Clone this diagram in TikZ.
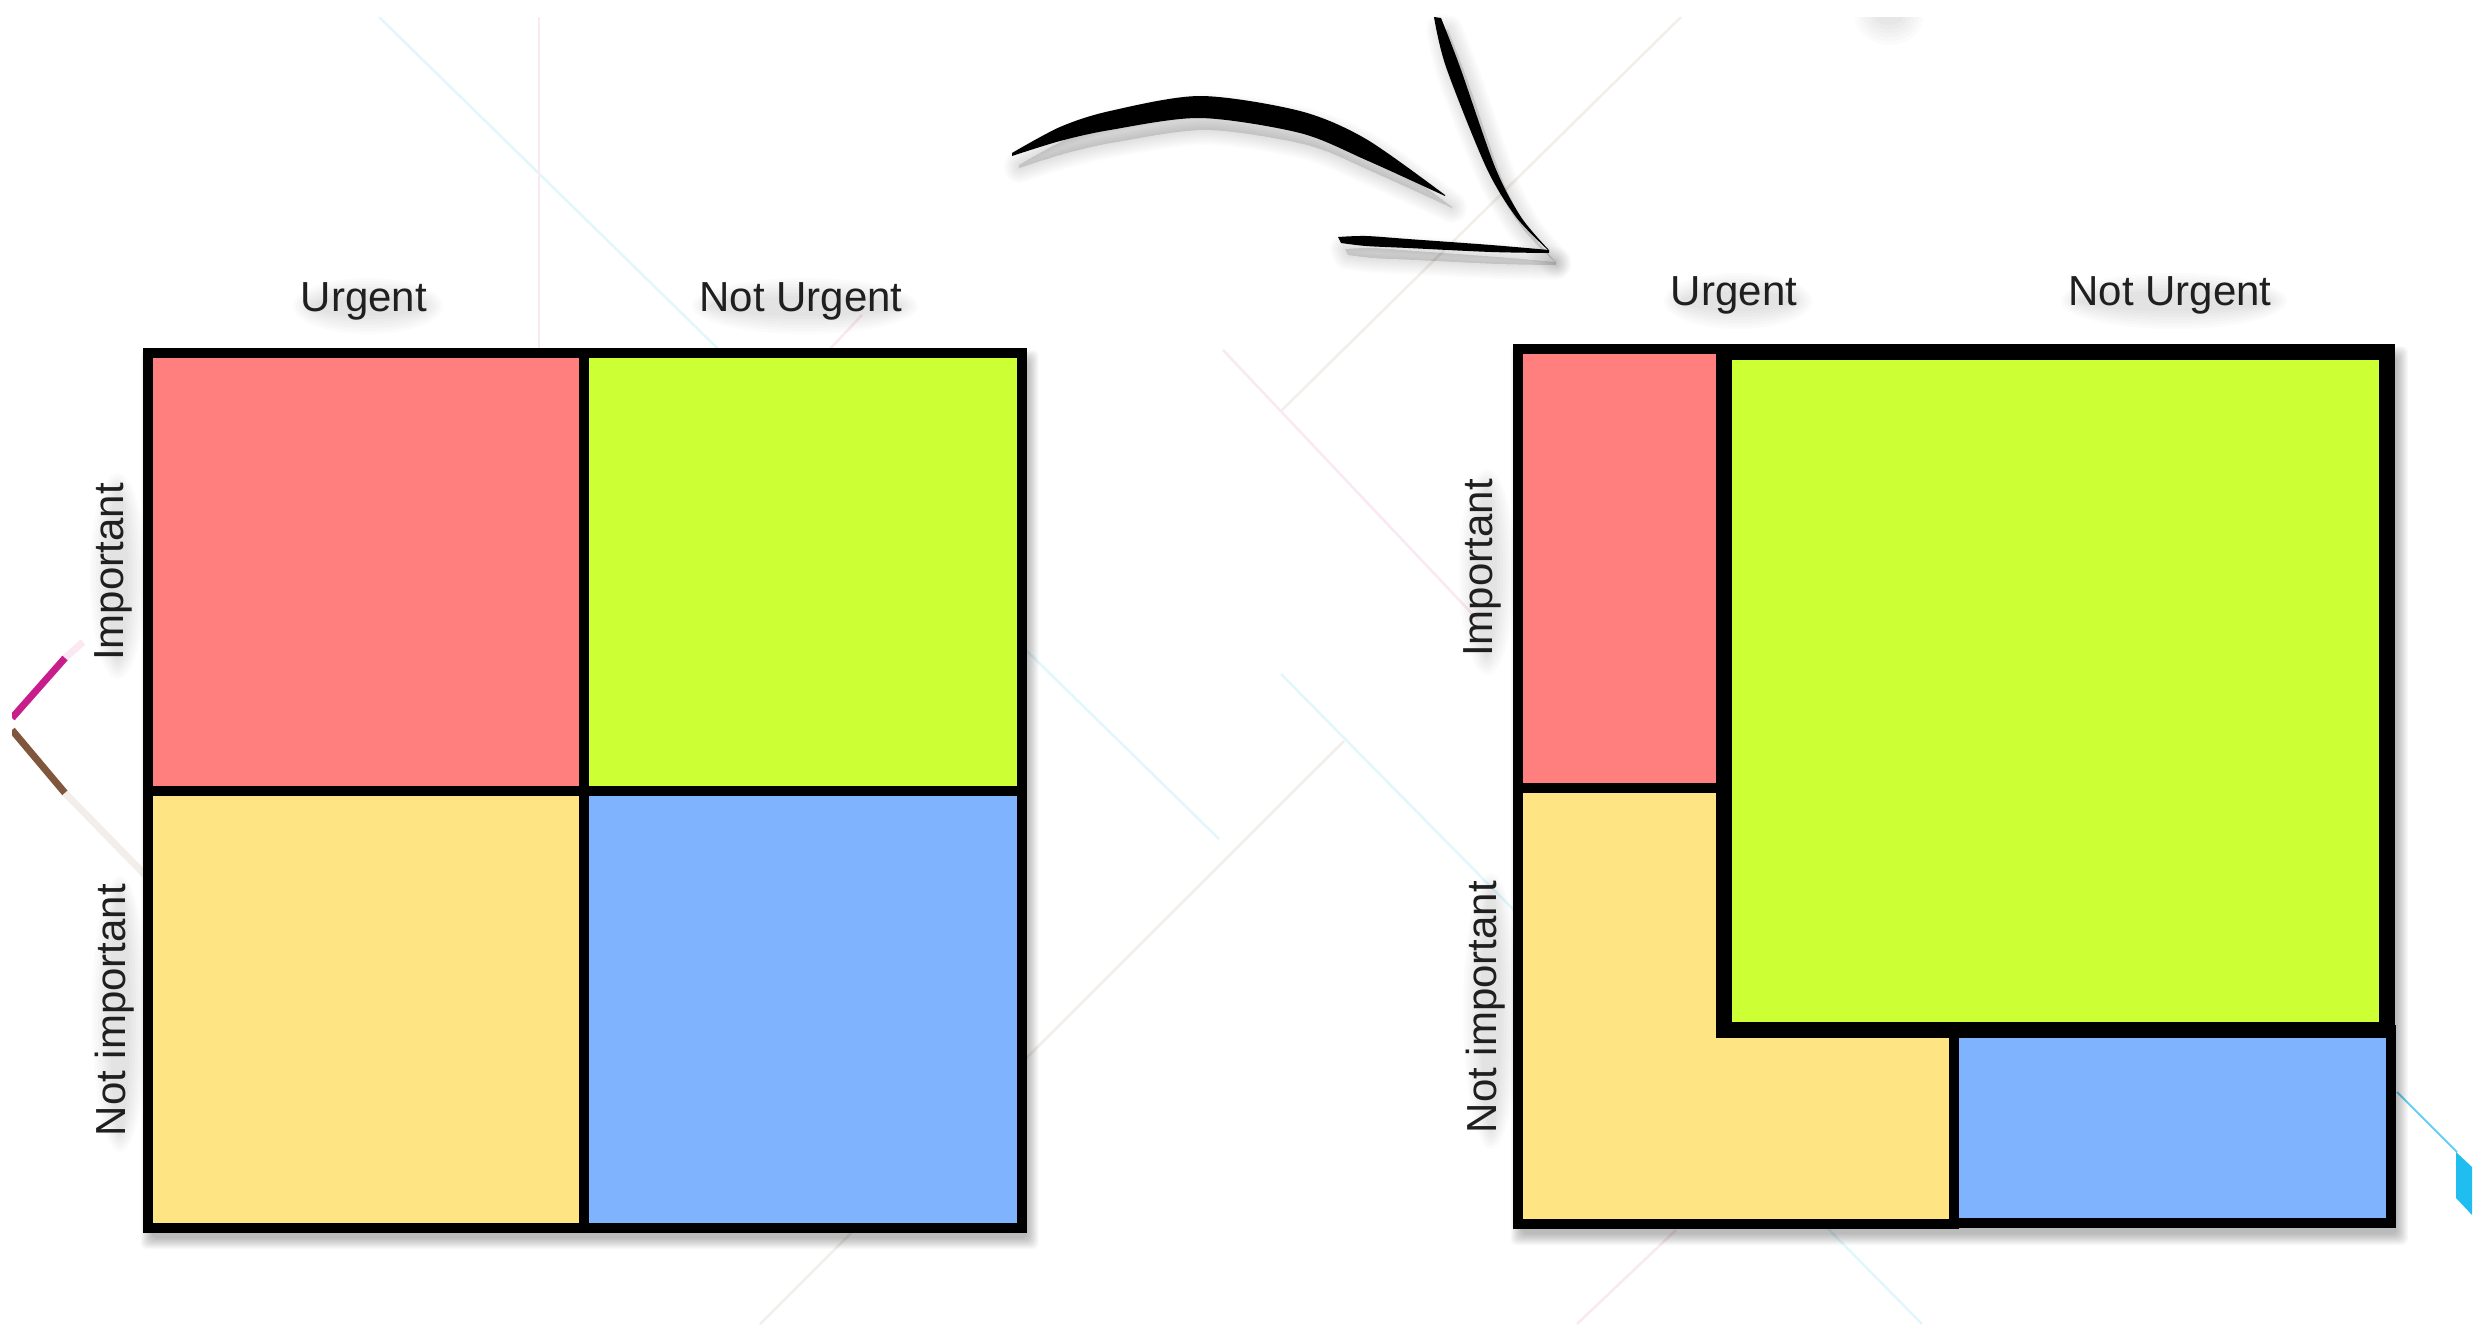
\documentclass[tikz,border=0pt]{standalone}
\usepackage{fontspec}
\setmainfont{Liberation Sans}
\usetikzlibrary{calc}
\definecolor{qred}{RGB}{255,127,127}
\definecolor{qgreen}{RGB}{205,255,53}
\definecolor{qyellow}{RGB}{254,228,130}
\definecolor{qblue}{RGB}{128,179,254}
\definecolor{bgcyan}{RGB}{226,247,252}
\definecolor{bgpink}{RGB}{250,232,242}
\definecolor{bgbeige}{RGB}{242,238,234}
\definecolor{decmag}{RGB}{200,30,140}
\definecolor{decbrown}{RGB}{128,86,60}
\definecolor{deccyan}{RGB}{32,190,240}
\newcommand\boxshadow[4]{\foreach \k in {1,...,12}{\fill[black,opacity=0.022,rounded corners=6pt] ({#1+5-\k},{#2+9-\k}) rectangle ({#3+5+\k},{#4+9+\k});}}
\newcommand\txtshadow[4]{\foreach \k in {1,...,7}{\fill[black,opacity=0.016] (#1,#2) ellipse ({#3/2+3*\k-6} and {#4/2+3*\k-6});}}
\newcommand\arrowshapes[1]{%
  \fill[#1] plot[smooth] coordinates {(1012,153) (1060,127) (1110,111) (1200,96) (1300,111) (1366,139) (1445,195)}
     -- plot[smooth] coordinates {(1445,196) (1366,160) (1300,133) (1200,118) (1110,130) (1060,141) (1012,156)} -- cycle;
  \fill[#1] plot[smooth] coordinates {(1434,17) (1446,67) (1486,167) (1516,217) (1549,251)}
     -- plot[smooth] coordinates {(1548,249) (1521,217) (1495,167) (1460,67) (1441,18)} -- cycle;
  \fill[#1] plot[smooth] coordinates {(1338,237) (1366,236) (1408,239) (1491,245) (1549,250)}
     -- plot[smooth] coordinates {(1549,253) (1491,252) (1408,248) (1366,246) (1341,243)} -- cycle;
}
\tikzset{
  lbl/.style={font=\fontsize{42}{50}\selectfont, inner sep=0pt, text=black!88},
  cell/.style={draw=black, line width=10pt},
  bigcell/.style={draw=black, line width=16pt},
  bgline/.style={line width=2.5pt},
}
\begin{document}
\begin{tikzpicture}[x=1pt,y=-1pt]
\useasboundingbox (0,0) rectangle (2483,1341);
\fill[white] (0,0) rectangle (2483,1341);

% faint background decoration
\begin{scope}
\clip (12,17) rectangle (2472,1324);
\draw[bgline, bgcyan] (379,17) -- (1219,839);
\draw[bgline, bgpink, line width=2pt] (539,17) -- (539,352);
\draw[bgline, bgpink] (862,315) -- (827,352);
\draw[bgline, bgbeige] (1344,741) -- (760,1324);
\draw[bgline, bgpink] (1223,350) -- (1478,620);
\draw[bgline, bgbeige] (1281,411) -- (1681,17);
\draw[bgline, bgcyan] (1281,674) -- (1922,1324);
\draw[bgline, bgpink] (1676,1230) -- (1577,1324);
\draw[line width=7pt, bgpink] (83,642) -- (65,658);
\draw[line width=7pt, decmag] (65,658) -- (12,718);
\draw[line width=7pt, decbrown] (12,730) -- (65,793);
\draw[line width=7pt, bgbeige] (65,793) -- (150,880);
\draw[line width=2pt, deccyan!70] (2397,1092) -- (2457,1152);
\fill[deccyan] (2456,1152) -- (2472,1167) -- (2472,1215) -- (2456,1198) -- cycle;
\foreach \k in {1,...,6}{\fill[black,opacity=0.015] (1889,17) ellipse ({10+4*\k} and {4+4*\k});}
\end{scope}

% ---------- left matrix ----------
\boxshadow{147.5}{353}{1021.5}{1228}
\fill[qred]    (147.5,353) rectangle (584,791);
\fill[qgreen]  (584,353) rectangle (1021.5,791);
\fill[qyellow] (147.5,791) rectangle (584,1228);
\fill[qblue]   (584,791) rectangle (1021.5,1228);
\draw[cell] (147.5,353) rectangle (584,791);
\draw[cell] (584,353) rectangle (1021.5,791);
\draw[cell] (147.5,791) rectangle (584,1228);
\draw[cell] (584,791) rectangle (1021.5,1228);

% ---------- right matrix ----------
\boxshadow{1517.5}{349}{2391}{1224}
\fill[qyellow] (1517.5,788) rectangle (1954,1224);
\draw[cell] (1517.5,788) rectangle (1954,1224);
\fill[qblue] (1954,1030) rectangle (2391,1223);
\draw[cell] (1954,1030) rectangle (2391,1223);
\fill[qred] (1517.5,349) rectangle (1722,788);
\draw[cell] (1517.5,349) rectangle (1722,788);
\fill[qgreen] (1724,352) rectangle (2387,1030);
\draw[bigcell] (1724,352) rectangle (2387,1030);

% ---------- label shadows ----------
\txtshadow{368}{306}{120}{26}
\txtshadow{805}{306}{196}{26}
\txtshadow{1738}{301}{118}{26}
\txtshadow{2174}{301}{196}{26}
\txtshadow{118}{576}{26}{176}
\txtshadow{120}{1014}{26}{246}
\txtshadow{1487}{572}{26}{176}
\txtshadow{1491}{1011}{26}{246}

% ---------- labels ----------
\node[lbl, anchor=base] (lu)  at (364,311) {Urgent};
\node[lbl, anchor=base] (lnu) at (801,311) {Not Urgent};
\node[lbl, anchor=base, rotate=90] (li)  at (123,572) {Important};
\node[lbl, anchor=base, rotate=90] (lni) at (125,1010) {Not important};
\node[lbl, anchor=base] (ru)  at (1734,305.5) {Urgent};
\node[lbl, anchor=base] (rnu) at (2170,305.5) {Not Urgent};
\node[lbl, anchor=base, rotate=90] (ri)  at (1492,568) {Important};
\node[lbl, anchor=base, rotate=90] (rni) at (1496,1007) {Not important};

% ---------- arrow (brush strokes) with soft shadow ----------
\foreach \k in {1,...,10}{\arrowshapes{black,opacity=0.011,draw,line join=round,line width=\k*3,shift={(7,12)}}}
\arrowshapes{black}
\end{tikzpicture}
\end{document}
